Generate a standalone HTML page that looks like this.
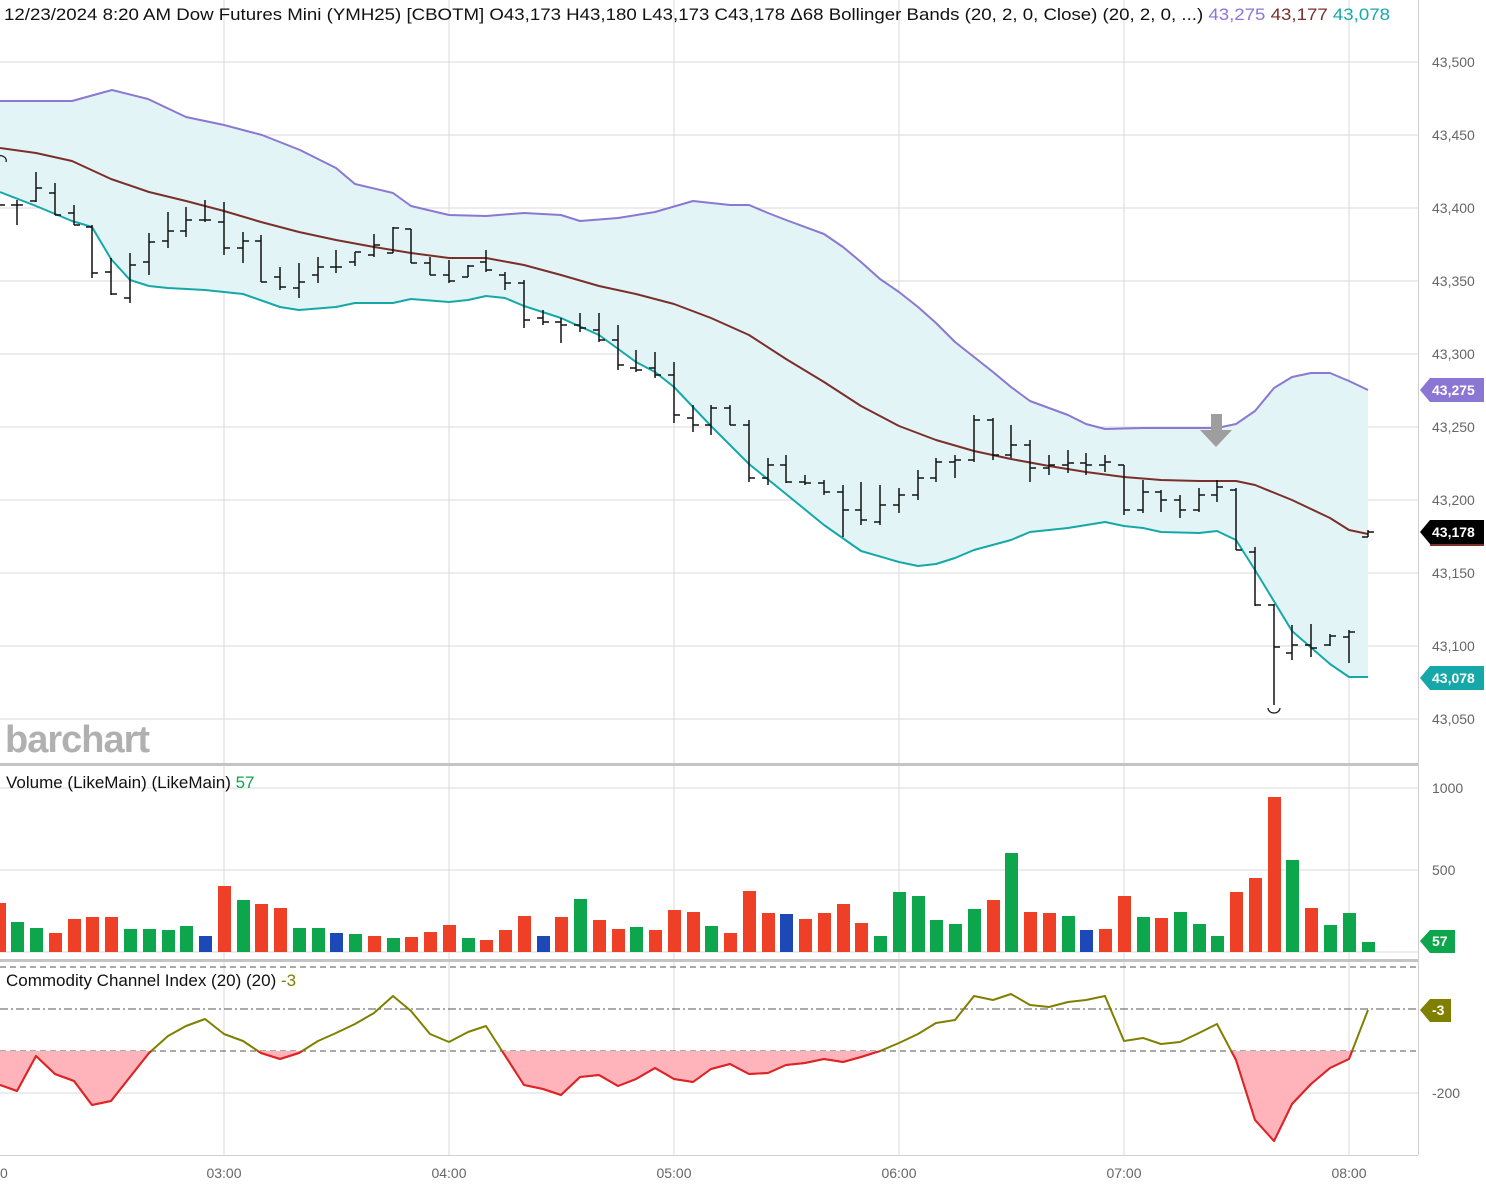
<!DOCTYPE html>
<html><head><meta charset="utf-8"><style>
html,body{margin:0;padding:0;background:#fff;}
svg{display:block;font-family:"Liberation Sans",sans-serif;}
</style></head><body>
<svg width="1486" height="1191" viewBox="0 0 1486 1191" xmlns="http://www.w3.org/2000/svg">
<defs>
<clipPath id="below"><rect x="0" y="1051" width="1418" height="140"/></clipPath>
<clipPath id="plot"><rect x="0" y="0" width="1418" height="1191"/></clipPath>
</defs>
<!-- grid -->
<g stroke="#d9d9d9" stroke-width="1">
<line x1="0" y1="62" x2="1418" y2="62"/><line x1="0" y1="135" x2="1418" y2="135"/>
<line x1="0" y1="208" x2="1418" y2="208"/><line x1="0" y1="281" x2="1418" y2="281"/>
<line x1="0" y1="354" x2="1418" y2="354"/><line x1="0" y1="427" x2="1418" y2="427"/>
<line x1="0" y1="500" x2="1418" y2="500"/><line x1="0" y1="573" x2="1418" y2="573"/>
<line x1="0" y1="646" x2="1418" y2="646"/><line x1="0" y1="719" x2="1418" y2="719"/>
<line x1="0" y1="788" x2="1418" y2="788"/><line x1="0" y1="870" x2="1418" y2="870"/>
<line x1="0" y1="952" x2="1418" y2="952"/><line x1="0" y1="1093" x2="1418" y2="1093"/>
<line x1="224" y1="0" x2="224" y2="1155"/><line x1="449" y1="0" x2="449" y2="1155"/>
<line x1="674" y1="0" x2="674" y2="1155"/><line x1="899" y1="0" x2="899" y2="1155"/>
<line x1="1124" y1="0" x2="1124" y2="1155"/><line x1="1349" y1="0" x2="1349" y2="1155"/>
</g>
<!-- BB fill -->
<polygon fill="#e2f4f5" points="0,101 40,101 72,101 112,90 148,99 186,117 224,125 262,135 300,150 336,168 355,184 393,193 411,206 449,215 486,216 524,213 561,215 580,221 618,218 655,212 693,201 730,205 749,205 768,213 786,220 824,234 843,247 861,262 880,279 899,292 918,307 936,323 955,342 974,357 993,372 1011,387 1030,401 1049,408 1068,415 1086,424 1105,429 1143,428 1180,428 1217,428 1236,424 1255,411 1274,388 1292,377 1311,373 1330,373 1349,381 1368,390 1368,677 1349,677 1330,664 1292,631 1255,570 1236,540 1217,531 1199,533 1161,532 1143,528 1124,526 1105,522 1068,528 1030,532 1011,540 974,550 955,558 936,564 918,566 899,562 861,551 824,525 786,494 749,464 711,426 674,387 655,372 636,362 599,335 561,318 524,306 505,298 486,296 468,300 449,302 411,299 393,303 355,303 336,307 299,310 280,307 243,294 205,290 168,288 149,286 130,280 111,259 92,227 72,221 36,206 0,192"/>
<g fill="none" stroke-width="2" stroke-linejoin="round">
<polyline stroke="#8a78d2" points="0,101 40,101 72,101 112,90 148,99 186,117 224,125 262,135 300,150 336,168 355,184 393,193 411,206 449,215 486,216 524,213 561,215 580,221 618,218 655,212 693,201 730,205 749,205 768,213 786,220 824,234 843,247 861,262 880,279 899,292 918,307 936,323 955,342 974,357 993,372 1011,387 1030,401 1049,408 1068,415 1086,424 1105,429 1143,428 1180,428 1217,428 1236,424 1255,411 1274,388 1292,377 1311,373 1330,373 1349,381 1368,390"/>
<polyline stroke="#7a2f2a" points="0,148 36,153 72,161 111,179 149,192 186,201 224,211 261,222 299,232 336,240 374,247 411,253 449,258 486,258 524,265 561,275 599,286 636,294 674,304 711,318 749,335 786,359 824,382 861,406 899,426 936,440 974,451 1011,459 1049,466 1086,472 1124,477 1161,480 1199,481 1236,481 1255,485 1292,500 1330,518 1349,530 1368,534"/>
<polyline stroke="#16a8a8" points="0,192 36,206 72,221 92,227 111,259 130,280 149,286 168,288 205,290 243,294 280,307 299,310 336,307 355,303 393,303 411,299 449,302 468,300 486,296 505,298 524,306 561,318 599,335 636,362 655,372 674,387 711,426 749,464 786,494 824,525 861,551 899,562 918,566 936,564 955,558 974,550 1011,540 1030,532 1068,528 1105,522 1124,526 1143,528 1161,532 1199,533 1217,531 1236,540 1255,570 1292,631 1330,664 1349,677 1368,677"/>
</g>
<!-- OHLC bars -->
<path fill="none" stroke="#111" stroke-width="1.5" d="
M-1 198V225M-1 205H5
M17 200V225M11 205H17M17 205H23
M36 172V202M30 201H36M36 188H42
M55 183V215M49 193H55M55 215H61
M74 205V225M68 213H74M74 225H80
M92 225V278M86 227H92M92 273H98
M111 258V295M105 272H111M111 294H117
M130 253V303M124 298H130M130 265H136
M149 233V275M143 262H149M149 242H155
M168 212V248M162 241H168M168 231H174
M186 207V237M180 231H186M186 220H192
M205 200V222M199 220H205M205 220H211
M224 202V255M218 222H224M224 248H230
M243 232V263M237 248H243M243 241H249
M261 235V282M255 241H261M261 282H267
M280 267V290M274 277H280M280 287H286
M299 263V298M293 288H299M299 282H305
M318 257V283M312 275H318M318 267H324
M336 250V273M330 267H336M336 267H342
M355 252V266M349 262H355M355 252H361
M374 234V257M368 255H374M374 245H380
M393 227V253M387 253H393M393 228H399
M411 229V263M405 229H411M411 263H417
M430 257V275M424 263H430M430 275H436
M449 260V283M443 275H449M449 281H455
M468 265V277M462 277H468M468 266H474
M486 250V272M480 262H486M486 270H492
M505 272V290M499 275H505M505 283H511
M524 280V328M518 283H524M524 320H530
M543 310V325M537 318H543M543 322H549
M561 318V343M555 322H561M561 325H567
M580 313V332M574 325H580M580 328H586
M599 313V342M593 330H599M599 340H605
M618 325V370M612 340H618M618 365H624
M636 350V372M630 368H636M636 370H642
M655 352V378M649 368H655M655 375H661
M674 362V423M668 375H674M674 415H680
M693 405V432M687 418H693M693 425H699
M711 405V435M705 425H711M711 408H717
M730 405V425M724 408H730M730 425H736
M749 420V482M743 425H749M749 478H755
M768 458V485M762 478H768M768 465H774
M786 455V483M780 465H786M786 482H792
M805 475V485M799 482H805M805 483H811
M824 480V495M818 483H824M824 492H830
M843 485V537M837 492H843M843 510H849
M861 482V525M855 510H861M861 520H867
M880 485V525M874 522H880M880 505H886
M899 488V513M893 505H899M899 495H905
M918 470V500M912 495H918M918 478H924
M936 458V482M930 478H936M936 462H942
M955 455V478M949 462H955M955 460H961
M974 415V462M968 460H974M974 420H980
M993 418V460M987 420H993M993 455H999
M1011 425V458M1005 455H1011M1011 445H1017
M1030 440V482M1024 445H1030M1030 468H1036
M1049 455V475M1043 468H1049M1049 465H1055
M1068 450V473M1062 465H1068M1068 463H1074
M1086 453V475M1080 463H1086M1086 465H1092
M1105 455V472M1099 465H1105M1105 462H1111
M1124 465V515M1118 465H1124M1124 510H1130
M1143 480V513M1137 510H1143M1143 492H1149
M1161 490V512M1155 492H1161M1161 500H1167
M1180 495V518M1174 500H1180M1180 510H1186
M1199 488V512M1193 510H1199M1199 495H1205
M1217 480V502M1211 495H1217M1217 487H1223
M1236 488V550M1230 490H1236M1236 550H1242
M1255 547V606M1249 552H1255M1255 605H1261
M1274 604V705M1268 605H1274M1274 647H1280
M1292 625V660M1286 653H1292M1292 645H1298
M1311 624V657M1305 645H1311M1311 648H1317
M1330 634V646M1324 645H1330M1330 636H1336
M1349 630V663M1343 637H1349M1349 632H1355
M1368 530V537M1362 537H1368M1368 532H1374"/>
<path d="M1268,708 a6,5 0 0 0 12,0" fill="none" stroke="#111" stroke-width="1.2"/>
<path d="M-2,156 a6,5 0 0 1 8,6" fill="none" stroke="#111" stroke-width="1.2"/>
<!-- gray arrow -->
<polygon fill="#9e9e9e" points="1211,414 1222,414 1222,430 1232,430 1216,447 1200,430 1211,430"/>
<text x="5" y="752" font-size="38" font-weight="bold" fill="#b0b0b0" letter-spacing="-1">barchart</text>
<!-- panel separators -->
<rect x="0" y="763" width="1418" height="3" fill="#c4c4c4"/>
<rect x="0" y="959" width="1418" height="3" fill="#c4c4c4"/>
<!-- volume bars -->
<g>
<rect x="-7" y="903" width="13" height="49" fill="#ee4026"/>
<rect x="11" y="922" width="13" height="30" fill="#0ea64c"/>
<rect x="30" y="928" width="13" height="24" fill="#0ea64c"/>
<rect x="49" y="933" width="13" height="19" fill="#ee4026"/>
<rect x="68" y="919" width="13" height="33" fill="#ee4026"/>
<rect x="86" y="917" width="13" height="35" fill="#ee4026"/>
<rect x="105" y="917" width="13" height="35" fill="#ee4026"/>
<rect x="124" y="929" width="13" height="23" fill="#0ea64c"/>
<rect x="143" y="929" width="13" height="23" fill="#0ea64c"/>
<rect x="162" y="930" width="13" height="22" fill="#0ea64c"/>
<rect x="180" y="926" width="13" height="26" fill="#0ea64c"/>
<rect x="199" y="936" width="13" height="16" fill="#1c48b8"/>
<rect x="218" y="886" width="13" height="66" fill="#ee4026"/>
<rect x="237" y="900" width="13" height="52" fill="#0ea64c"/>
<rect x="255" y="904" width="13" height="48" fill="#ee4026"/>
<rect x="274" y="908" width="13" height="44" fill="#ee4026"/>
<rect x="293" y="928" width="13" height="24" fill="#0ea64c"/>
<rect x="312" y="928" width="13" height="24" fill="#0ea64c"/>
<rect x="330" y="933" width="13" height="19" fill="#1c48b8"/>
<rect x="349" y="934" width="13" height="18" fill="#0ea64c"/>
<rect x="368" y="936" width="13" height="16" fill="#ee4026"/>
<rect x="387" y="938" width="13" height="14" fill="#0ea64c"/>
<rect x="405" y="937" width="13" height="15" fill="#ee4026"/>
<rect x="424" y="932" width="13" height="20" fill="#ee4026"/>
<rect x="443" y="925" width="13" height="27" fill="#ee4026"/>
<rect x="462" y="938" width="13" height="14" fill="#0ea64c"/>
<rect x="480" y="940" width="13" height="12" fill="#ee4026"/>
<rect x="499" y="930" width="13" height="22" fill="#ee4026"/>
<rect x="518" y="916" width="13" height="36" fill="#ee4026"/>
<rect x="537" y="936" width="13" height="16" fill="#1c48b8"/>
<rect x="555" y="917" width="13" height="35" fill="#ee4026"/>
<rect x="574" y="899" width="13" height="53" fill="#0ea64c"/>
<rect x="593" y="920" width="13" height="32" fill="#ee4026"/>
<rect x="612" y="929" width="13" height="23" fill="#ee4026"/>
<rect x="630" y="927" width="13" height="25" fill="#0ea64c"/>
<rect x="649" y="930" width="13" height="22" fill="#ee4026"/>
<rect x="668" y="910" width="13" height="42" fill="#ee4026"/>
<rect x="687" y="912" width="13" height="40" fill="#ee4026"/>
<rect x="705" y="926" width="13" height="26" fill="#0ea64c"/>
<rect x="724" y="933" width="13" height="19" fill="#ee4026"/>
<rect x="743" y="891" width="13" height="61" fill="#ee4026"/>
<rect x="762" y="913" width="13" height="39" fill="#ee4026"/>
<rect x="780" y="914" width="13" height="38" fill="#1c48b8"/>
<rect x="799" y="919" width="13" height="33" fill="#ee4026"/>
<rect x="818" y="913" width="13" height="39" fill="#ee4026"/>
<rect x="837" y="904" width="13" height="48" fill="#ee4026"/>
<rect x="855" y="923" width="13" height="29" fill="#ee4026"/>
<rect x="874" y="936" width="13" height="16" fill="#0ea64c"/>
<rect x="893" y="892" width="13" height="60" fill="#0ea64c"/>
<rect x="912" y="896" width="13" height="56" fill="#0ea64c"/>
<rect x="930" y="920" width="13" height="32" fill="#0ea64c"/>
<rect x="949" y="924" width="13" height="28" fill="#0ea64c"/>
<rect x="968" y="909" width="13" height="43" fill="#0ea64c"/>
<rect x="987" y="900" width="13" height="52" fill="#ee4026"/>
<rect x="1005" y="853" width="13" height="99" fill="#0ea64c"/>
<rect x="1024" y="912" width="13" height="40" fill="#ee4026"/>
<rect x="1043" y="913" width="13" height="39" fill="#ee4026"/>
<rect x="1062" y="916" width="13" height="36" fill="#0ea64c"/>
<rect x="1080" y="930" width="13" height="22" fill="#1c48b8"/>
<rect x="1099" y="929" width="13" height="23" fill="#ee4026"/>
<rect x="1118" y="896" width="13" height="56" fill="#ee4026"/>
<rect x="1137" y="917" width="13" height="35" fill="#0ea64c"/>
<rect x="1155" y="918" width="13" height="34" fill="#ee4026"/>
<rect x="1174" y="912" width="13" height="40" fill="#0ea64c"/>
<rect x="1193" y="924" width="13" height="28" fill="#0ea64c"/>
<rect x="1211" y="936" width="13" height="16" fill="#0ea64c"/>
<rect x="1230" y="892" width="13" height="60" fill="#ee4026"/>
<rect x="1249" y="878" width="13" height="74" fill="#ee4026"/>
<rect x="1268" y="797" width="13" height="155" fill="#ee4026"/>
<rect x="1286" y="860" width="13" height="92" fill="#0ea64c"/>
<rect x="1305" y="908" width="13" height="44" fill="#ee4026"/>
<rect x="1324" y="925" width="13" height="27" fill="#0ea64c"/>
<rect x="1343" y="913" width="13" height="39" fill="#0ea64c"/>
<rect x="1362" y="942" width="13" height="10" fill="#0ea64c"/>
</g>
<!-- CCI -->
<g stroke="#555" stroke-width="1" fill="none">
<line x1="0" y1="967" x2="1418" y2="967" stroke-dasharray="6,4"/>
<line x1="0" y1="1009" x2="1418" y2="1009" stroke-dasharray="8,3,2,3"/>
<line x1="0" y1="1051" x2="1418" y2="1051" stroke-dasharray="6,4"/>
</g>
<polygon clip-path="url(#below)" fill="#ffb3ba" points="0,1051 0,1085 17,1091 36,1056 55,1074 74,1081 92,1105 111,1101 130,1077 149,1053 168,1036 186,1026 205,1019 224,1034 243,1041 261,1053 280,1059 299,1053 318,1041 336,1033 355,1024 374,1013 393,996 411,1011 430,1034 449,1042 468,1032 486,1026 524,1085 543,1089 561,1095 580,1077 599,1075 618,1086 636,1079 655,1068 674,1079 693,1082 711,1069 730,1064 749,1074 768,1073 786,1065 805,1063 824,1059 843,1062 861,1057 880,1051 899,1043 918,1034 936,1023 955,1020 974,996 993,1000 1011,994 1030,1005 1049,1007 1068,1002 1086,1000 1105,996 1124,1041 1143,1038 1161,1044 1180,1042 1199,1033 1217,1024 1236,1060 1255,1120 1274,1141 1292,1104 1311,1084 1330,1068 1349,1059 1368,1010 1368,1051"/>
<polyline id="cci" fill="none" stroke="#808000" stroke-width="2" stroke-linejoin="round" points="0,1085 17,1091 36,1056 55,1074 74,1081 92,1105 111,1101 130,1077 149,1053 168,1036 186,1026 205,1019 224,1034 243,1041 261,1053 280,1059 299,1053 318,1041 336,1033 355,1024 374,1013 393,996 411,1011 430,1034 449,1042 468,1032 486,1026 524,1085 543,1089 561,1095 580,1077 599,1075 618,1086 636,1079 655,1068 674,1079 693,1082 711,1069 730,1064 749,1074 768,1073 786,1065 805,1063 824,1059 843,1062 861,1057 880,1051 899,1043 918,1034 936,1023 955,1020 974,996 993,1000 1011,994 1030,1005 1049,1007 1068,1002 1086,1000 1105,996 1124,1041 1143,1038 1161,1044 1180,1042 1199,1033 1217,1024 1236,1060 1255,1120 1274,1141 1292,1104 1311,1084 1330,1068 1349,1059 1368,1010"/>
<polyline clip-path="url(#below)" fill="none" stroke="#e3202c" stroke-width="2" stroke-linejoin="round" points="0,1085 17,1091 36,1056 55,1074 74,1081 92,1105 111,1101 130,1077 149,1053 168,1036 186,1026 205,1019 224,1034 243,1041 261,1053 280,1059 299,1053 318,1041 336,1033 355,1024 374,1013 393,996 411,1011 430,1034 449,1042 468,1032 486,1026 524,1085 543,1089 561,1095 580,1077 599,1075 618,1086 636,1079 655,1068 674,1079 693,1082 711,1069 730,1064 749,1074 768,1073 786,1065 805,1063 824,1059 843,1062 861,1057 880,1051 899,1043 918,1034 936,1023 955,1020 974,996 993,1000 1011,994 1030,1005 1049,1007 1068,1002 1086,1000 1105,996 1124,1041 1143,1038 1161,1044 1180,1042 1199,1033 1217,1024 1236,1060 1255,1120 1274,1141 1292,1104 1311,1084 1330,1068 1349,1059 1368,1010"/>
<!-- axes -->
<line x1="1418.5" y1="0" x2="1418.5" y2="1155" stroke="#cfcfcf"/>
<line x1="0" y1="1155.5" x2="1418" y2="1155.5" stroke="#cfcfcf"/>
<g font-size="14" fill="#666">
<text x="1432" y="67">43,500</text><text x="1432" y="140">43,450</text>
<text x="1432" y="213">43,400</text><text x="1432" y="286">43,350</text>
<text x="1432" y="359">43,300</text><text x="1432" y="432">43,250</text>
<text x="1432" y="505">43,200</text><text x="1432" y="578">43,150</text>
<text x="1432" y="651">43,100</text><text x="1432" y="724">43,050</text>
<text x="1432" y="793">1000</text><text x="1432" y="875">500</text>
<text x="1432" y="1098">-200</text>
<g text-anchor="middle"><text x="0" y="1178">00</text><text x="224" y="1178">03:00</text><text x="449" y="1178">04:00</text><text x="674" y="1178">05:00</text><text x="899" y="1178">06:00</text><text x="1124" y="1178">07:00</text><text x="1349" y="1178">08:00</text></g>
</g>
<!-- tags -->
<g font-size="14" font-weight="bold" fill="#fff">
<polygon fill="#8b76d4" points="1420,390 1430,378 1484,378 1484,402 1430,402"/><text x="1432" y="395">43,275</text>
<polygon fill="#000" points="1420,532 1430,520 1484,520 1484,544 1430,544"/><line x1="1430" y1="545" x2="1484" y2="545" stroke="#7a2f2a" stroke-width="2"/><text x="1432" y="537">43,178</text>
<polygon fill="#16a8a8" points="1420,678 1430,666 1484,666 1484,690 1430,690"/><text x="1432" y="683">43,078</text>
<polygon fill="#0ea64c" points="1420,941 1430,930 1455,930 1455,953 1430,953"/><text x="1432" y="946">57</text>
<polygon fill="#808000" points="1420,1010 1430,999 1451,999 1451,1022 1430,1022"/><text x="1432" y="1015">-3</text>
</g>
<!-- legends -->
<text x="4" y="20" font-size="17" fill="#111" textLength="1386" lengthAdjust="spacingAndGlyphs">12/23/2024 8:20 AM  Dow Futures Mini (YMH25) [CBOTM]  O43,173  H43,180  L43,173  C43,178  Δ68  Bollinger Bands (20, 2, 0, Close)  (20, 2, 0, ...) <tspan fill="#8b76d4">43,275</tspan> <tspan fill="#7a2f2a">43,177</tspan> <tspan fill="#16a8a8">43,078</tspan></text>
<text x="6" y="788" font-size="17" fill="#111">Volume (LikeMain)  (LikeMain) <tspan fill="#0ea64c">57</tspan></text>
<text x="6" y="986" font-size="17" fill="#111">Commodity Channel Index (20)  (20) <tspan fill="#808000">-3</tspan></text>
</svg>
</body></html>
